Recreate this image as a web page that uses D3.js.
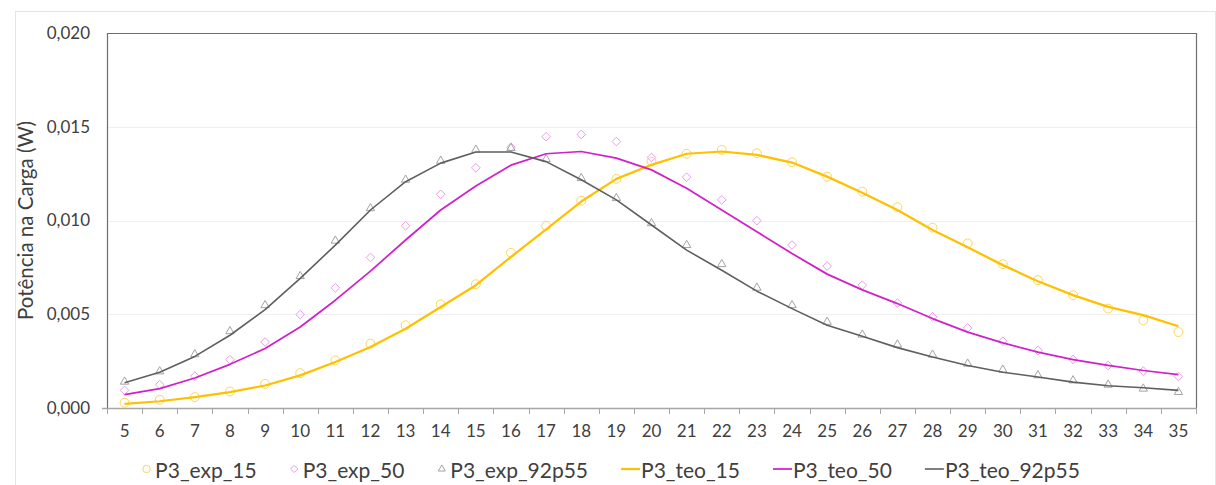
<!DOCTYPE html>
<html>
<head>
<meta charset="utf-8">
<script src="https://cdn.jsdelivr.net/npm/d3@7"></script>
<style>
  html, body { margin: 0; padding: 0; background: #ffffff; }
  svg { display: block; font-family: Lato, "Open Sans", sans-serif; }
</style>
</head>
<body>
<svg id="chart" width="1216" height="485"></svg>
<script>
// Load resistance steps (x axis categories)
const categories = [5, 6, 7, 8, 9, 10, 11, 12, 13, 14, 15, 16, 17, 18, 19, 20,
                    21, 22, 23, 24, 25, 26, 27, 28, 29, 30, 31, 32, 33, 34, 35];

// Measured power (W)
const exp15 = [0.00028, 0.00044, 0.00058, 0.00088, 0.00129, 0.00186, 0.00254, 0.00343, 0.00441, 0.00553, 0.00660,
               0.00828, 0.00971, 0.01106, 0.01222, 0.01314, 0.01356, 0.01377, 0.01359, 0.01311, 0.01234,
               0.01154, 0.01071, 0.00962, 0.00878, 0.00767, 0.00682, 0.00602, 0.00530, 0.00468, 0.00405];
const exp50 = [0.00094, 0.00124, 0.00170, 0.00258, 0.00352, 0.00498, 0.00641, 0.00803, 0.00972, 0.01140, 0.01281,
               0.01391, 0.01447, 0.01459, 0.01421, 0.01336, 0.01231, 0.01110, 0.00999, 0.00869, 0.00757,
               0.00655, 0.00560, 0.00486, 0.00427, 0.00356, 0.00307, 0.00259, 0.00227, 0.00197, 0.00168];
const exp92p55 = [0.00140, 0.00195, 0.00286, 0.00409, 0.00548, 0.00703, 0.00892, 0.01065, 0.01217, 0.01318, 0.01377,
                  0.01386, 0.01327, 0.01226, 0.01119, 0.00985, 0.00869, 0.00767, 0.00641, 0.00548, 0.00459,
                  0.00391, 0.00338, 0.00284, 0.00236, 0.00204, 0.00174, 0.00147, 0.00124, 0.00103, 0.00085];

// Theoretical power (W)
const teo15 = [0.00022, 0.00036, 0.00058, 0.00085, 0.00120, 0.00174, 0.00245, 0.00325, 0.00423, 0.00539, 0.00655,
               0.00806, 0.00953, 0.01101, 0.01222, 0.01297, 0.01356, 0.01368, 0.01350, 0.01309, 0.01234,
               0.01148, 0.01056, 0.00949, 0.00857, 0.00762, 0.00676, 0.00602, 0.00539, 0.00495, 0.00436];
const teo50 = [0.00071, 0.00103, 0.00160, 0.00233, 0.00317, 0.00432, 0.00575, 0.00730, 0.00896, 0.01056, 0.01184,
               0.01295, 0.01356, 0.01368, 0.01333, 0.01270, 0.01172, 0.01056, 0.00940, 0.00824, 0.00714,
               0.00630, 0.00557, 0.00477, 0.00405, 0.00347, 0.00298, 0.00258, 0.00227, 0.00200, 0.00178];
const teo92p55 = [0.00135, 0.00191, 0.00275, 0.00388, 0.00525, 0.00691, 0.00869, 0.01056, 0.01207, 0.01306, 0.01365,
                  0.01365, 0.01314, 0.01217, 0.01110, 0.00976, 0.00842, 0.00735, 0.00623, 0.00530, 0.00441,
                  0.00383, 0.00322, 0.00272, 0.00227, 0.00191, 0.00165, 0.00138, 0.00119, 0.00108, 0.00094];

const yTicks = [0, 0.005, 0.010, 0.015, 0.020];
const yTitle = "Potência na Carga (W)";

const markerSeries = [
  { name: "P3_exp_15", values: exp15, symbol: d3.symbolCircle, stroke: "#ffd55a", size: 62 },
  { name: "P3_exp_50", values: exp50, symbol: d3.symbolDiamond2, stroke: "#ea9cea", size: 48 },
  { name: "P3_exp_92p55", values: exp92p55, symbol: d3.symbolTriangle2, stroke: "#a3a3a3", size: 50 }
];
const lineSeries = [
  { name: "P3_teo_15", values: teo15, stroke: "#ffc000", width: 2.25 },
  { name: "P3_teo_50", values: teo50, stroke: "#d020c8", width: 1.75 },
  { name: "P3_teo_92p55", values: teo92p55, stroke: "#5f5f5f", width: 1.6 }
];

const svg = d3.select("#chart");
const plot = { left: 107, right: 1196, top: 33, bottom: 408 };

// Chart frame
svg.append("rect")
  .attr("x", 15.5).attr("y", 11.5).attr("width", 1200).attr("height", 480)
  .attr("fill", "#ffffff").attr("stroke", "#e4e4e4").attr("stroke-width", 1);

const x = d3.scaleBand().domain(categories).range([plot.left, plot.right]).padding(0);
const xc = c => x(c) + x.bandwidth() / 2;
const y = d3.scaleLinear().domain([0, 0.020]).range([plot.bottom, plot.top]);

const ptBR = d3.formatLocale({ decimal: ",", thousands: ".", grouping: [3], currency: ["R$", ""] });
const fmt = ptBR.format(".3f");

// Horizontal gridlines
svg.append("g")
  .selectAll("line")
  .data(yTicks.filter(t => t > 0 && t < 0.020))
  .join("line")
  .attr("x1", plot.left).attr("x2", plot.right)
  .attr("y1", d => Math.round(y(d)) + 0.5).attr("y2", d => Math.round(y(d)) + 0.5)
  .attr("stroke", "#f0f0f0").attr("stroke-width", 1);

// Y axis labels
const yAxis = d3.axisLeft(y).tickValues(yTicks).tickFormat(fmt).tickSize(0).tickPadding(17);
svg.append("g")
  .attr("transform", `translate(${plot.left},0)`)
  .call(yAxis)
  .call(g => g.select(".domain").remove())
  .call(g => g.selectAll("text").attr("font-size", 17).attr("fill", "#404040")
                .attr("font-family", "Lato, sans-serif"));

// X axis labels centred on each category
const xAxis = d3.axisBottom(x).tickSize(0).tickPadding(17);
svg.append("g")
  .attr("transform", `translate(0,${plot.bottom})`)
  .call(xAxis)
  .call(g => g.select(".domain").remove())
  .call(g => g.selectAll("text").attr("font-size", 17).attr("fill", "#404040")
                .attr("font-family", "Lato, sans-serif"));

// Category boundary tick marks
const edges = categories.map(c => x(c)).concat([plot.right]);
svg.append("g")
  .selectAll("line")
  .data(edges)
  .join("line")
  .attr("x1", d => Math.round(d) + 0.5).attr("x2", d => Math.round(d) + 0.5)
  .attr("y1", plot.bottom).attr("y2", plot.bottom + 6)
  .attr("stroke", "#a6a6a6").attr("stroke-width", 1);

// Plot frame: top, left and right in dark grey, bottom axis in light grey
svg.append("path")
  .attr("d", `M${plot.left + 0.5},${plot.bottom}V${plot.top + 0.5}H${plot.right + 0.5}V${plot.bottom}`)
  .attr("fill", "none").attr("stroke", "#6e6e6e").attr("stroke-width", 1.2);
svg.append("line")
  .attr("x1", plot.left - 5).attr("x2", plot.right + 1)
  .attr("y1", plot.bottom + 0.5).attr("y2", plot.bottom + 0.5)
  .attr("stroke", "#a6a6a6").attr("stroke-width", 1.5);

// Y axis title
svg.append("text")
  .attr("transform", `translate(25,${(plot.top + plot.bottom) / 2}) rotate(-90)`)
  .attr("text-anchor", "middle").attr("dominant-baseline", "central")
  .attr("font-size", 20.5).attr("fill", "#404040")
  .text(yTitle);

// Experimental markers
markerSeries.forEach(s => {
  const sym = d3.symbol().type(s.symbol).size(s.size);
  svg.append("g")
    .selectAll("path")
    .data(categories.map((c, i) => ({ c, v: s.values[i] })))
    .join("path")
    .attr("d", sym)
    .attr("transform", d => `translate(${xc(d.c)},${y(d.v)})`)
    .attr("fill", "none").attr("stroke", s.stroke).attr("stroke-width", 1);
});

// Theoretical lines
lineSeries.forEach(s => {
  const line = d3.line().x((d, i) => xc(categories[i])).y(d => y(d));
  svg.append("path")
    .datum(s.values)
    .attr("d", line)
    .attr("fill", "none").attr("stroke", s.stroke).attr("stroke-width", s.width)
    .attr("stroke-linejoin", "round");
});

// Legend
const legendFont = 21;
const legend = svg.append("g").attr("font-size", legendFont).attr("fill", "#404040");
const items = markerSeries.map(s => ({ kind: "marker", s })).concat(lineSeries.map(s => ({ kind: "line", s })));
const gap = 33;
const parts = [];
items.forEach(it => {
  const g = legend.append("g");
  let textX;
  if (it.kind === "marker") {
    g.append("path")
      .attr("d", d3.symbol().type(it.s.symbol).size(it.s.size * 0.7))
      .attr("transform", "translate(4.5,0)")
      .attr("fill", "none").attr("stroke", it.s.stroke).attr("stroke-width", 1);
    textX = 13;
  } else {
    g.append("line")
      .attr("x1", 0).attr("x2", 19).attr("y1", 0).attr("y2", 0)
      .attr("stroke", it.s.stroke).attr("stroke-width", it.s.width);
    textX = 20;
  }
  const t = g.append("text").attr("x", textX).attr("dominant-baseline", "central").text(it.s.name);
  const w = textX + t.node().getComputedTextLength();
  parts.push({ g, w });
});
const total = d3.sum(parts, p => p.w) + gap * (parts.length - 1);
let cursor = 611 - total / 2;
parts.forEach(p => {
  p.g.attr("transform", `translate(${cursor},469)`);
  cursor += p.w + gap;
});
</script>
</body>
</html>
